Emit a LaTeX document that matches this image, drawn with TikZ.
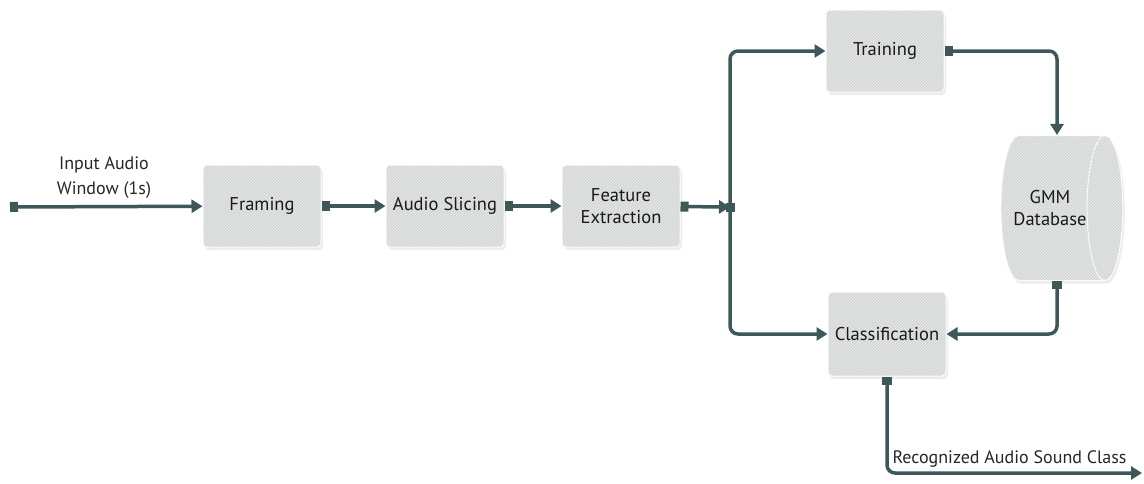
\documentclass[tikz,border=0pt]{standalone}
\usepackage{fontspec}
\setmainfont{PT Sans}
\usetikzlibrary{arrows.meta,shapes.geometric,patterns,shadows}
\definecolor{linkcol}{RGB}{62,88,90}
\definecolor{boxfill}{RGB}{213,215,215}

\begin{document}
\begin{tikzpicture}[x=1pt,y=-1pt,
    block/.style={draw=white, line width=1pt, fill=boxfill, rounded corners=4pt,
      minimum width=118pt, minimum height=82pt, align=center,
      font=\fontsize{18.5}{22}\selectfont, text=black!90,
      drop shadow={shadow xshift=2pt, shadow yshift=-3pt, opacity=0.15},
      postaction={pattern=north east lines, pattern color=white!50!boxfill}},
    link/.style={draw=linkcol, line width=3.5pt, rounded corners=8pt,
      -{Triangle[length=11pt,width=13pt]}},
    sqstart/.style={{Square[length=8pt,width=10pt]}-{Triangle[length=11pt,width=13pt]}},
    lbl/.style={font=\fontsize{18}{25}\selectfont, align=center, text=black!85}]
    \useasboundingbox (0,0) rectangle (1144,483);

    % blocks
    \node[block] (framing) at (262, 206) {Framing};
    \node[block] (slicing) at (445, 206) {Audio Slicing};
    \node[block] (feat) at (621, 206) {Feature\\Extraction};
    \node[block] (train) at (885, 51) {Training};
    \node[block, minimum height=84pt] (classif) at (887, 334) {Classification};
    \node[cylinder, draw=white, line width=1pt, fill=boxfill, shape aspect=0.85,
      inner xsep=0pt, minimum width=145pt, minimum height=108pt, align=center,
      font=\fontsize{18.5}{22}\selectfont, text=black!90,
      drop shadow={shadow xshift=2pt, shadow yshift=-3pt, opacity=0.15},
      postaction={pattern=north east lines, pattern color=white!50!boxfill}]
      (gmm) at (1050, 208) {GMM\\Database};

    % connectors
    \coordinate (in) at (10, 207);
    \coordinate (out) at (1142, 473);
    \node[fill=linkcol, minimum size=9pt, inner sep=0pt] (junc) at (730, 207) {};

    \draw[link, sqstart] (in) -- (framing);
    \draw[link, sqstart] (framing) -- (slicing);
    \draw[link, sqstart] (slicing) -- (feat);
    \draw[link, sqstart] (feat) -- (junc.center);
    \draw[link] (junc.center) |- (train.west);
    \draw[link] (junc.center) |- (classif.west);
    \draw[link, sqstart] (train.east) -| ([xshift=7pt]gmm.north);
    \draw[link, sqstart] ([xshift=7pt]gmm.south) |- (classif.east);
    \draw[link, sqstart] (classif.south) |- (out);

    % labels
    \node[lbl, anchor=south] (inlbl) at (104, 202) {Input Audio\\Window (1s)};
    \node[lbl, anchor=south west] (outlbl) at (889, 471) {Recognized Audio Sound Class};
\end{tikzpicture}
\end{document}
